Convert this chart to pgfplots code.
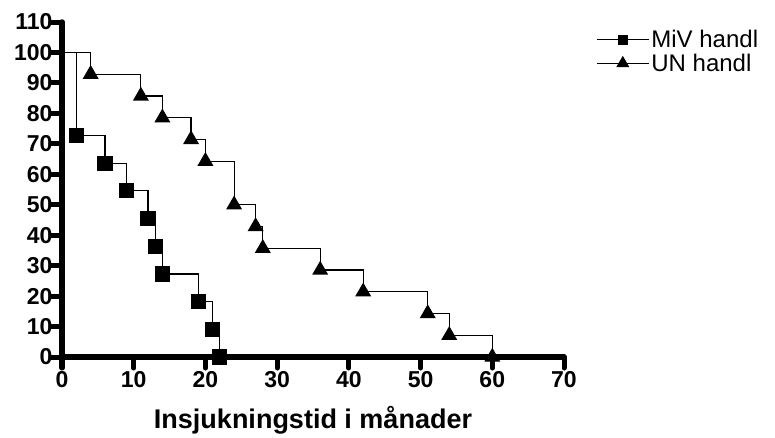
\documentclass[border=0pt]{standalone}
\usepackage{pgfplots}
\pgfplotsset{compat=1.18}
\usepackage{fontspec}
\setmainfont{Liberation Sans}

\begin{document}
\begin{tikzpicture}
\useasboundingbox (-62pt,-80pt) rectangle (713pt,357pt);
\begin{axis}[
  at={(0,0)}, anchor=south west,
  scale only axis, width=502pt, height=335pt,
  xmin=0, xmax=70, ymin=0, ymax=110,
  axis x line*=bottom, axis y line*=left,
  axis line style={-, line width=5.5pt, line cap=round},
  xtick={0,10,...,70}, ytick={0,10,...,110},
  tick align=outside, major tick length=11pt,
  tick style={line width=5pt, black, line cap=round},
  /pgf/number format/assume math mode=true,
  ticklabel style={font=\bfseries\fontsize{23}{25}\selectfont},
  xticklabel style={yshift=0pt},
  yticklabel style={xshift=5pt},
  xlabel={Insjukningstid i månader},
  xlabel style={font=\bfseries\fontsize{27}{30}\selectfont, yshift=-12pt},
  clip=false,
  legend style={draw=none, fill=none, at={(1,1)}, anchor=north west,
    xshift=29pt, yshift=-4pt,
    font=\fontsize{24}{26}\selectfont,
    row sep=1pt},
  legend cell align=left,
]
% MiV handl: survival (%) against months
\addplot[black, line width=1.2pt, const plot mark left,
  mark=square*, mark size=7pt, mark options={solid},
  mark indices={2,3,4,5,6,7,8,9,10},
  legend image code/.code={%
    \draw[line width=1.2pt] (0pt,0pt) -- (52pt,0pt);
    \fill (21.5pt,-4.5pt) rectangle (30.5pt,4.5pt);}]
  coordinates {(0,100) (2,72.73) (6,63.64) (9,54.55) (12,45.45) (13,36.36)
               (14,27.27) (19,18.18) (21,9.09) (22,0)};
\addlegendentry{MiV handl}
% UN handl
\addplot[black, line width=1.2pt, const plot mark left,
  mark=triangle*, mark size=8pt, mark options={solid},
  mark indices={2,3,4,5,6,7,8,9,10,11,12,13,14},
  legend image code/.code={%
    \draw[line width=1.2pt] (0pt,0pt) -- (52pt,0pt);
    \fill (20.5pt,-3pt) -- (31.5pt,-3pt) -- (26pt,6.5pt) -- cycle;}]
  coordinates {(0,100) (4,92.86) (11,85.71) (14,78.57) (18,71.43) (20,64.29)
               (24,50) (27,42.86) (28,35.71) (36,28.57) (42,21.43) (51,14.29)
               (54,7.14) (60,0)};
\addlegendentry{UN handl}
\end{axis}
\end{tikzpicture}
\end{document}
